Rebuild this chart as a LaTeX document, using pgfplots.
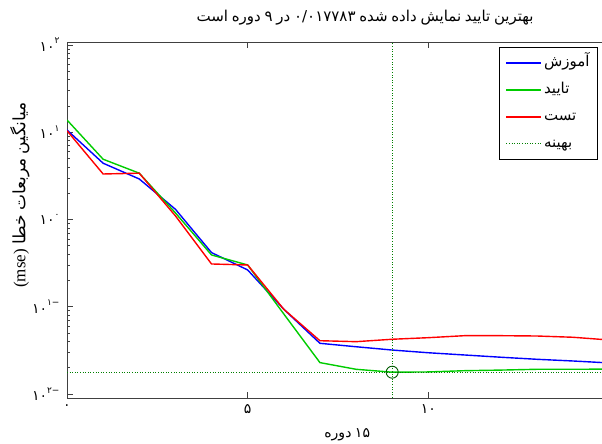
\documentclass[border=0pt]{standalone}
\usepackage{fontspec}
\setmainfont{Liberation Serif}
\newfontfamily\fa[Script=Arabic]{DejaVu Sans}
\usepackage{pgfplots}
\pgfplotsset{compat=1.18}
\definecolor{mgreen}{rgb}{0,0.8,0}
\definecolor{bgreen}{rgb}{0,0.5,0}
\definecolor{cgreen}{rgb}{0,0.35,0}
\newcommand{\ex}[1]{\raisebox{1.0ex}{\fontsize{9}{9}\selectfont #1}}
\newcommand{\w}[1]{\mbox{\fa #1}}
\begin{document}
\begin{tikzpicture}
\begin{axis}[
  scale only axis, width=542pt, height=356pt,
  at={(67pt,46pt)}, anchor=south west,
  ymode=log, xmin=0, xmax=15, ymin=0.009, ymax=108,
  xtick={0,5,10,15},
  xticklabels={{\fa ۰},{\fa ۵},{\fa ۱۰},{\fa ۱۵}},
  ytick={0.01,0.1,1,10,100},
  yticklabels={{\fa ۱۰\ex{−۲}},{\fa ۱۰\ex{−۱}},{\fa ۱۰\ex{۰}},{\fa ۱۰\ex{۱}},{\fa ۱۰\ex{۲}}},
  tick label style={font=\fontsize{14}{16}\selectfont},
  yticklabel style={xshift=-4pt},
  xticklabel style={yshift=-3pt},
  tick align=inside, major tick length=6pt, minor tick length=3pt,
  axis line style={line width=0.9pt, black!75},
  every tick/.style={black!75, line width=0.6pt},
  title={\w{است} \w{دوره} \w{۹} \w{در} \w{۰/۰۱۷۷۸۳} \w{شده} \w{داده} \w{نمایش} \w{تایید} \w{بهترین}},
  title style={at={(axis description cs:0.55,1.04)}, anchor=base, font=\fontsize{15}{17}\selectfont},
  xlabel={\w{دوره} \w{۱۵}},
  xlabel style={at={(axis description cs:0.517,-0.112)}, anchor=base, font=\fontsize{14}{16}\selectfont},
  ylabel={(mse) \w{خطا} \w{مربعات} \w{میانگین}},
  ylabel style={at={(axis description cs:-0.087,0.57)}, anchor=center, font=\fontsize{17}{19}\selectfont},
  legend style={at={(axis description cs:0.9797,0.986)}, anchor=north east,
    font=\fontsize{15}{17}\selectfont, draw=black, line width=0.8pt,
    nodes={text height=11pt, text depth=4pt, inner sep=2pt},
    row sep=8pt, inner sep=6pt, cells={anchor=west}},
  legend cell align=left,
  legend image code/.code={\draw[#1] (0pt,0pt) -- (35pt,0pt);},
]
\addplot[blue, line width=1.4pt] coordinates {(0,10.6)(1,4.41)(2,2.91)(3,1.31)(4,0.417)(5,0.264)(6,0.0935)(7,0.0381)(8,0.0348)(9,0.0319)(10,0.0297)(11,0.0280)(12,0.0264)(13,0.0250)(14,0.0239)(15,0.0227)};
\addlegendentry{\fa آموزش}
\addplot[mgreen, line width=1.4pt] coordinates {(0,13.8)(1,4.90)(2,3.39)(3,1.19)(4,0.392)(5,0.301)(6,0.0826)(7,0.0229)(8,0.0192)(9,0.017783)(10,0.0179)(11,0.0185)(12,0.0188)(13,0.0192)(14,0.0192)(15,0.0193)};
\addlegendentry{\fa تایید}
\addplot[red, line width=1.4pt] coordinates {(0,10.4)(1,3.32)(2,3.39)(3,1.10)(4,0.309)(5,0.301)(6,0.0935)(7,0.0408)(8,0.0398)(9,0.0424)(10,0.0442)(11,0.0466)(12,0.0466)(13,0.0462)(14,0.0447)(15,0.0416)};
\addlegendentry{\fa تست}
\addplot[bgreen, line width=1pt, dash pattern=on 1pt off 1.6pt] coordinates {(0,0.017783)(15,0.017783)};
\addlegendentry{\fa بهینه}
\addplot[bgreen, line width=1pt, dash pattern=on 1pt off 1.6pt, forget plot] coordinates {(9,0.009)(9,108)};
\addplot[cgreen, only marks, mark=o, mark size=6pt, line width=0.9pt, forget plot] coordinates {(9,0.017783)};
\end{axis}
\pgfresetboundingbox
\useasboundingbox (0pt,0pt) rectangle (602pt,444pt);
\end{tikzpicture}
\end{document}
